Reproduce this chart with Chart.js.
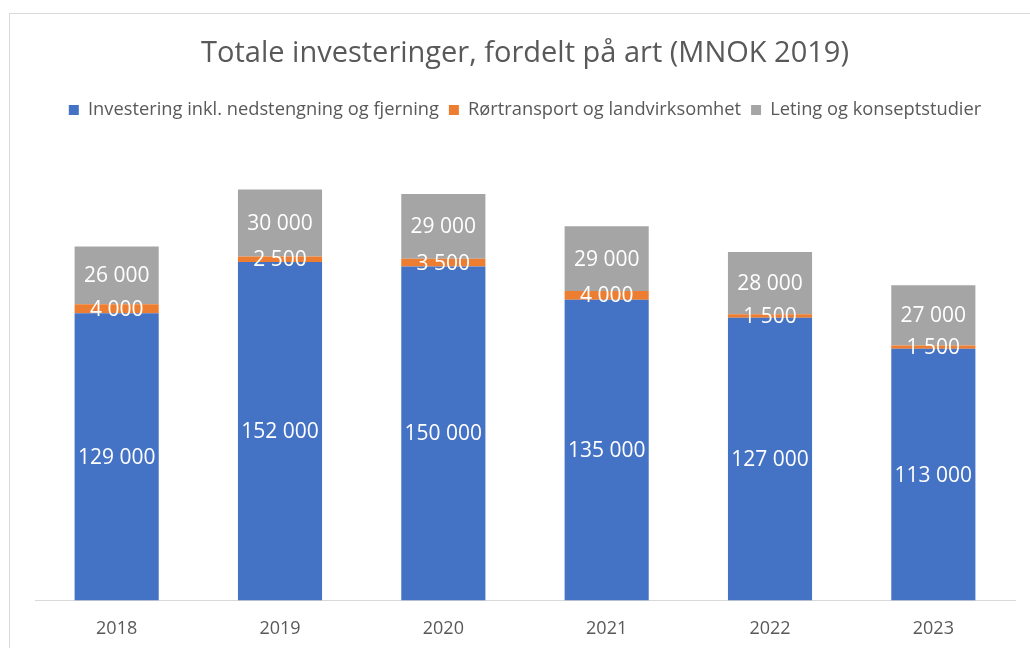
<!DOCTYPE html>
<html>
<head>
<meta charset="utf-8">
<script src="https://cdn.jsdelivr.net/npm/chart.js@4/dist/chart.umd.min.js"></script>
<style>
	html, body { margin: 0; padding: 0; background: #fff; }
	#wrap { position: relative; width: 1030px; height: 648px; overflow: hidden; }
	#frame {
		position: absolute; left: 9px; top: 13px; width: 1100px; height: 700px;
		border-left: 1px solid #d9d9d9; border-top: 1px solid #d9d9d9;
	}
	canvas { position: absolute; left: 0; top: 0; }
</style>
</head>
<body>
<div id="wrap">
	<div id="frame"></div>
	<canvas id="investChart" width="1030" height="680"></canvas>
</div>
<script>
const years = ["2018", "2019", "2020", "2021", "2022", "2023"];
const investering = [129000, 152000, 150000, 135000, 127000, 113000];
const roertransport = [4000, 2500, 3500, 4000, 1500, 1500];
const leting = [26000, 30000, 29000, 29000, 28000, 27000];

const textColor = "#595959";
const fontFamily = "'Open Sans', Lato, sans-serif";

function formatNumber(value) {
	return String(value).replace(/\B(?=(\d{3})+(?!\d))/g, " ");
}

// draws white value labels in the middle of every segment
const barLabels = {
	id: "barLabels",
	afterDatasetsDraw(chart) {
		const ctx = chart.ctx;
		ctx.save();
		ctx.fillStyle = "#ffffff";
		ctx.font = "21px " + fontFamily;
		ctx.textAlign = "center";
		ctx.textBaseline = "middle";
		chart.data.datasets.forEach((dataset, i) => {
			const meta = chart.getDatasetMeta(i);
			meta.data.forEach((bar, j) => {
				const y = (bar.y + bar.base) / 2;
				ctx.fillText(formatNumber(dataset.data[j]), bar.x, y + 1);
			});
		});
		ctx.restore();
	},
};

// extra space between legend and bars
const legendGap = {
	id: "legendGap",
	beforeInit(chart) {
		const fit = chart.legend.fit;
		chart.legend.fit = function () {
			fit.bind(chart.legend)();
			this.height += 26;
		};
	},
};

const ctx = document.getElementById("investChart").getContext("2d");

new Chart(ctx, {
	type: "bar",
	data: {
		labels: years,
		datasets: [
			{
				label: "Investering inkl. nedstengning og fjerning",
				data: investering,
				backgroundColor: "#4472C4",
			},
			{
				label: "Rørtransport og landvirksomhet",
				data: roertransport,
				backgroundColor: "#ED7D31",
			},
			{
				label: "Leting og konseptstudier",
				data: leting,
				backgroundColor: "#A5A5A5",
			},
		],
	},
	options: {
		responsive: false,
		animation: false,
		layout: {
			padding: { top: 0, left: 35, right: 15, bottom: 30 },
		},
		datasets: {
			bar: {
				categoryPercentage: 1,
				barPercentage: 0.515,
				borderWidth: 0,
			},
		},
		plugins: {
			title: {
				display: true,
				text: "Totale investeringer, fordelt på art (MNOK 2019)",
				color: textColor,
				font: { family: fontFamily, size: 29, weight: "normal" },
				padding: { top: 36, bottom: 20 },
			},
			legend: {
				position: "top",
				labels: {
					color: textColor,
					font: { family: fontFamily, size: 18.3 },
					boxWidth: 10,
					boxHeight: 10,
					padding: 10,
				},
			},
			tooltip: { enabled: false },
		},
		scales: {
			x: {
				stacked: true,
				grid: { display: false },
				border: { color: "#d9d9d9", width: 1 },
				ticks: {
					color: textColor,
					font: { family: fontFamily, size: 18 },
					padding: 10,
				},
			},
			y: {
				stacked: true,
				display: false,
				min: 0,
				max: 200000,
			},
		},
	},
	plugins: [barLabels, legendGap],
});
</script>
</body>
</html>
